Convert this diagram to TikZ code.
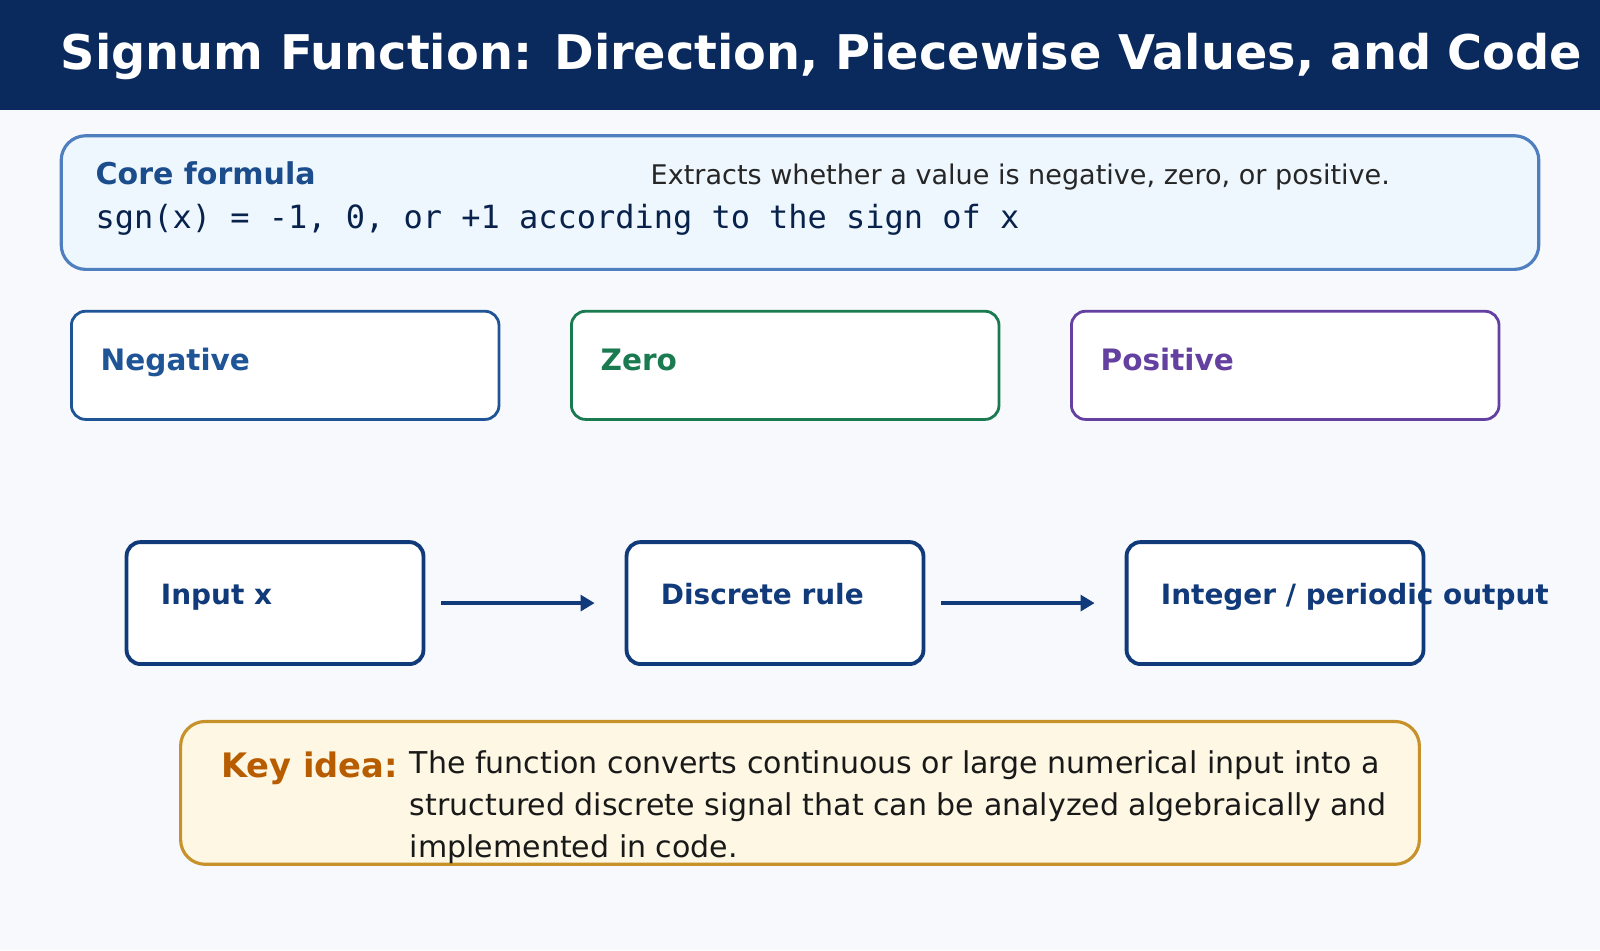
\documentclass[tikz,border=0pt]{standalone}
\usepackage{fontspec}
\setmainfont{DejaVu Sans}
\setmonofont{DejaVu Sans Mono}
\usetikzlibrary{positioning,arrows.meta}
\definecolor{navy}{HTML}{0A2A5E}
\definecolor{pagebg}{HTML}{F7F9FD}
\definecolor{coreedge}{HTML}{4F7FBF}
\definecolor{corefill}{HTML}{EEF7FE}
\definecolor{negc}{HTML}{1F5597}
\definecolor{zeroc}{HTML}{1A7A50}
\definecolor{posc}{HTML}{6440A0}
\definecolor{flowc}{HTML}{103A7A}
\definecolor{keyedge}{HTML}{C8922A}
\definecolor{keyfill}{HTML}{FDF7E3}
\definecolor{keyc}{HTML}{B85C00}
\tikzset{case box/.style={line width=0.8pt,rounded corners=4pt,fill=white},
  flow box/.style={draw=flowc,line width=1.1pt,rounded corners=4pt,fill=white},
  label text/.style={anchor=base west,inner sep=0pt,font=\bfseries\fontsize{8.4}{10}\selectfont},
  flow text/.style={anchor=base west,inner sep=0pt,text=flowc,font=\bfseries\fontsize{7.95}{9}\selectfont},
  flow arrow/.style={draw=flowc,line width=1.1pt,-{Triangle[length=4pt,width=4.5pt]}}
}
\begin{document}
\begin{tikzpicture}[x=0.010204cm,y=-0.010204cm]
	\useasboundingbox (0,0) rectangle (1568,931);
	\fill[pagebg] (0,0) rectangle (1568,931);
	\fill[navy] (0,0) rectangle (1568,108);
	\node[anchor=base west,inner sep=0pt,text=white,font=\bfseries\fontsize{13.6}{15}\selectfont] (title) at (59,68) {Signum Function: Direction, Piecewise Values, and Code};
	
	% core formula
	\draw[coreedge,fill=corefill,line width=0.9pt,rounded corners=7pt] (60,133) rectangle (1508,264);
	\node[anchor=base west,inner sep=0pt,text=negc!80!navy,font=\bfseries\fontsize{8.55}{10}\selectfont] (core) at (93,181) {Core formula};
	\node[anchor=base west,inner sep=0pt,text=black!85,font=\fontsize{7.7}{9}\selectfont] (extracts) at (637,181) {Extracts whether a value is negative, zero, or positive.};
	\node[anchor=base west,inner sep=0pt,text=navy!80!black,font=\ttfamily\fontsize{9.1}{10}\selectfont] (formula) at (93,224) {sgn(x) = -1, 0, or +1 according to the sign of x};
	
	% cases
	\draw[case box,draw=negc] (70,305) rectangle (489,411);
	\draw[case box,draw=zeroc] (560,305) rectangle (979,411);
	\draw[case box,draw=posc] (1050,305) rectangle (1469,411);
	\node[label text,text=negc] (neg) at (98,363) {Negative};
	\node[label text,text=zeroc] (zero) at (588,363) {Zero};
	\node[label text,text=posc] (pos) at (1078,363) {Positive};
	
	% flow
	\node[flow box,minimum width=2.97cm,minimum height=1.22cm] (input) at (269.5,591) {};
	\node[flow box,minimum width=2.97cm,minimum height=1.22cm] (rule) at (759.5,591) {};
	\node[flow box,minimum width=2.97cm,minimum height=1.22cm] (output) at (1249.5,591) {};
	\node[flow text] at (157,592) {Input x};
	\node[flow text] at (647,592) {Discrete rule};
	\node[flow text] at (1137,592) {Integer / periodic output};
	\draw[flow arrow,shorten <=0.16cm,shorten >=0.30cm] (input.east) -- (rule.west);
	\draw[flow arrow,shorten <=0.16cm,shorten >=0.30cm] (rule.east) -- (output.west);
	
	% key idea
	\draw[keyedge,fill=keyfill,line width=0.9pt,rounded corners=7pt] (177,707) rectangle (1391,847);
	\node[anchor=base west,inner sep=0pt,text=keyc,font=\bfseries\fontsize{9.6}{11}\selectfont] (key) at (216,762) {Key idea:};
	\node[anchor=north west,inner sep=0pt,text=black!90,align=left,font=\fontsize{8.55}{11.9}\selectfont] (body) at (401,735) {The function converts continuous or large numerical input into a\\structured discrete signal that can be analyzed algebraically and\\implemented in code.};
\end{tikzpicture}
\end{document}
